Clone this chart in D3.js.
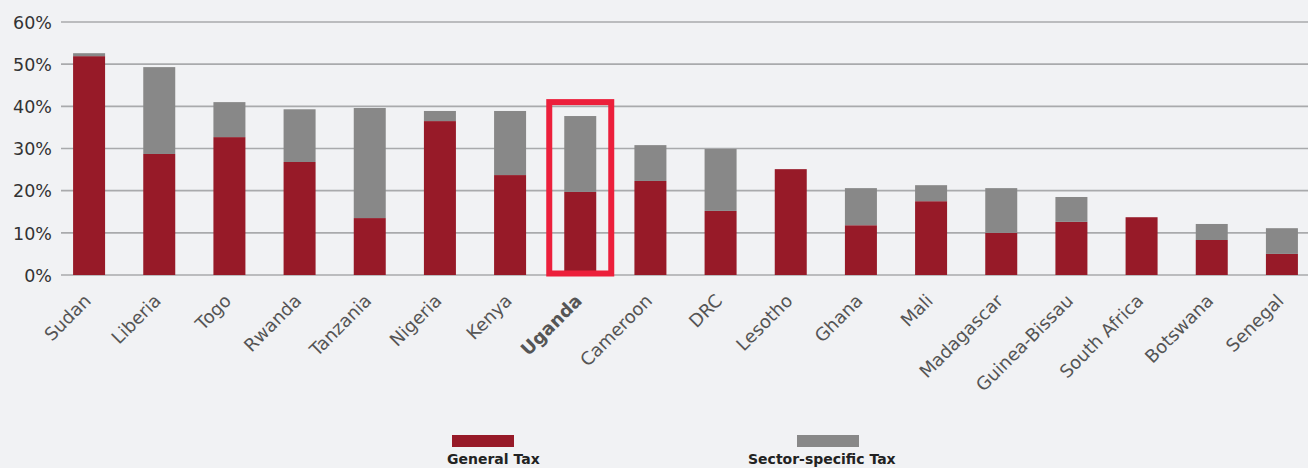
<!DOCTYPE html>
<html>
<head>
<meta charset="utf-8">
<script src="https://cdn.jsdelivr.net/npm/d3@7/dist/d3.min.js"></script>
<style>
  html, body { margin: 0; padding: 0; background: #f1f2f4; }
  svg { display: block; }
  text { font-family: "DejaVu Sans", sans-serif; }
</style>
</head>
<body>
<svg id="chart" width="1308" height="468"></svg>
<script>
// Tax share by country, in percent
const countries = ["Sudan", "Liberia", "Togo", "Rwanda", "Tanzania", "Nigeria", "Kenya", "Uganda",
  "Cameroon", "DRC", "Lesotho", "Ghana", "Mali", "Madagascar", "Guinea-Bissau", "South Africa",
  "Botswana", "Senegal"];
const generalTax = [51.9, 28.7, 32.7, 26.8, 13.5, 36.5, 23.7, 19.7, 22.3, 15.2, 25.1, 11.8, 17.5, 10.0, 12.6, 13.7, 8.3, 5.0];
const sectorTax  = [0.7, 20.6, 8.3, 12.5, 26.1, 2.4, 15.2, 18.0, 8.5, 14.7, 0.0, 8.8, 3.8, 10.6, 5.9, 0.0, 3.8, 6.1];
const yTicks = [0, 10, 20, 30, 40, 50, 60];
const seriesNames = ["General Tax", "Sector-specific Tax"];
const highlighted = "Uganda";

const colors = { general: "#971a28", sector: "#888888", highlight: "#ec1f3b" };

const svg = d3.select("#chart");

const x = d3.scaleBand()
  .domain(countries)
  .range([54, 1317])
  .paddingInner(0.544)
  .paddingOuter(0.272);

const y = d3.scaleLinear()
  .domain([0, 60])
  .range([275, 22]);

// Gridlines
const grid = svg.append("g");
grid.selectAll("line")
  .data(yTicks)
  .join("line")
  .attr("x1", 61)
  .attr("x2", 1308)
  .attr("y1", d => y(d))
  .attr("y2", d => y(d))
  .attr("stroke", "#a9aaac")
  .attr("stroke-width", 1.6);

// Y axis labels
const yAxis = d3.axisLeft(y)
  .tickValues(yTicks)
  .tickFormat(d => d + "%")
  .tickSize(0)
  .tickPadding(0);
const yg = svg.append("g")
  .attr("transform", "translate(52,0)")
  .call(yAxis);
yg.select(".domain").remove();
yg.selectAll("text")
  .attr("font-size", 17.5)
  .attr("fill", "#333")
  .attr("dy", "0.36em")
  .style("font-family", "'DejaVu Sans', sans-serif");

// Stacked bars
const rows = countries.map((c, i) => ({ country: c, general: generalTax[i], sector: sectorTax[i] }));
const stack = d3.stack().keys(["general", "sector"])(rows);

svg.append("g")
  .selectAll("g")
  .data(stack)
  .join("g")
  .attr("fill", d => colors[d.key])
  .selectAll("rect")
  .data(d => d)
  .join("rect")
  .attr("x", d => x(d.data.country))
  .attr("width", x.bandwidth())
  .attr("y", d => y(d[1]))
  .attr("height", d => y(d[0]) - y(d[1]));

// Highlight box around the featured country
svg.append("rect")
  .attr("x", x(highlighted) - 15)
  .attr("width", x.bandwidth() + 30)
  .attr("y", y(41))
  .attr("height", y(0) - y(41) - 1.5)
  .attr("fill", "none")
  .attr("stroke", colors.highlight)
  .attr("stroke-width", 6);

// X axis labels, rotated
const xAxis = d3.axisBottom(x).tickSize(0).tickPadding(0);
const xg = svg.append("g").call(xAxis);
xg.select(".domain").remove();
xg.selectAll(".tick").attr("transform", d => `translate(${x(d) + x.bandwidth() / 2 - 6},293)`);
xg.selectAll("text")
  .attr("text-anchor", "end")
  .attr("transform", "rotate(-45)")
  .attr("x", 0)
  .attr("y", 0)
  .attr("dy", "0.7em")
  .attr("font-size", 18)
  .attr("fill", "#555")
  .attr("font-weight", d => d === highlighted ? "bold" : "normal")
  .style("font-family", "'DejaVu Sans', sans-serif");

// Legend
const legend = [
  { name: seriesNames[0], color: colors.general, sx: 452, tx: 447 },
  { name: seriesNames[1], color: colors.sector, sx: 797, tx: 748 }
];
const lg = svg.append("g");
lg.selectAll("rect")
  .data(legend)
  .join("rect")
  .attr("x", d => d.sx)
  .attr("y", 435)
  .attr("width", 62)
  .attr("height", 12)
  .attr("fill", d => d.color);
lg.selectAll("text")
  .data(legend)
  .join("text")
  .attr("x", d => d.tx)
  .attr("y", 464)
  .attr("font-size", 14)
  .attr("font-weight", "bold")
  .attr("fill", "#222")
  .text(d => d.name);
</script>
</body>
</html>
